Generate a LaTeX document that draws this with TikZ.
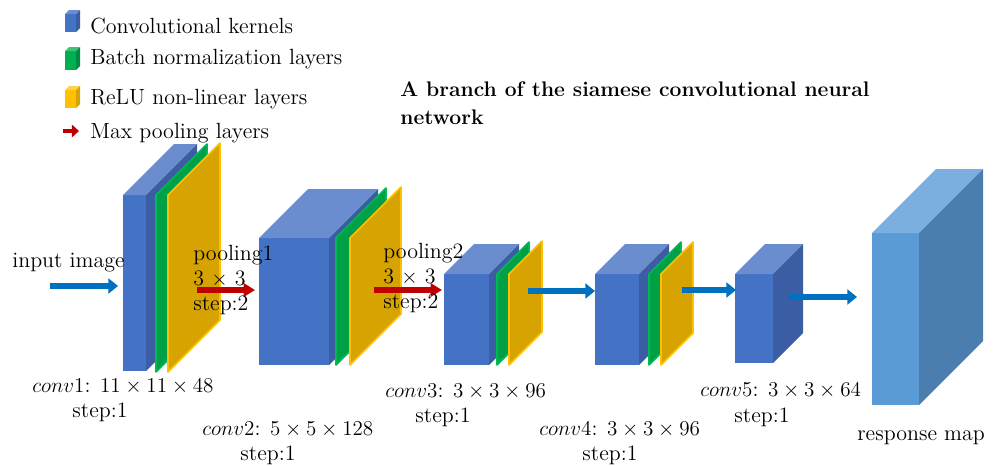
\documentclass[tikz,border=0pt]{standalone}
\usepackage{amsmath}
\usetikzlibrary{arrows.meta,positioning}

\definecolor{convfront}{HTML}{4472C4}
\definecolor{convtop}{HTML}{6A8DD0}
\definecolor{convside}{HTML}{3A5DA3}
\definecolor{bnfront}{HTML}{00B050}
\definecolor{bntop}{HTML}{3CC474}
\definecolor{bnside}{HTML}{008C40}
\definecolor{relufront}{HTML}{FFC000}
\definecolor{relutop}{HTML}{FFD24D}
\definecolor{reluside}{HTML}{D9A300}
\definecolor{bnface}{HTML}{00A046}
\definecolor{bnedge}{HTML}{00B854}
\definecolor{reluface}{HTML}{D6A300}
\definecolor{reluedge}{HTML}{FFC000}
\definecolor{resfront}{HTML}{5B9BD5}
\definecolor{restop}{HTML}{7BAFE0}
\definecolor{resside}{HTML}{4A7EAE}
\definecolor{flowblue}{HTML}{0070C0}
\definecolor{poolred}{HTML}{C00000}

% x, y of front top-left corner, width, height, depth, colour prefix
\newcommand\cuboid[6]{%
  \fill[#6front] (#1,#2) rectangle ++(#3,#4);
  \fill[#6top] (#1,#2) -- ++(#5,-#5) -- ++(#3,0) -- ++(-#5,#5) -- cycle;
  \fill[#6side] (#1+#3,#2) -- ++(#5,-#5) -- ++(0,#4) -- ++(-#5,#5) -- cycle;
}
% x, y of top-left corner, height, depth, colour prefix
\newcommand\sheet[5]{%
  \filldraw[fill=#5face, draw=#5edge, line width=0.9pt, line join=round]
    (#1,#2) -- ++(#4,-#4) -- ++(0,#3) -- ++(-#4,#4) -- cycle;
}

\begin{document}
\begin{tikzpicture}[x=0.2mm,y=-0.2mm, every node/.style={font=\fontsize{12.5}{14}\selectfont, inner sep=0pt},
  txt/.style={anchor=base west},
  flow/.style={-{Triangle[length=5.5pt,width=8.5pt]}, line width=3.8pt, flowblue},
  pool/.style={-{Triangle[length=6.5pt,width=7.5pt]}, line width=3.4pt, poolred}]
  \useasboundingbox (0,0) rectangle (1003,465);

  % legend
  \cuboid{65}{14}{11}{18}{4}{conv}
  \cuboid{65}{51}{11}{19}{4}{bn}
  \cuboid{65}{90}{11}{18}{4}{relu}
  \coordinate (lg0) at (63,131);
  \coordinate (lg1) at (79,131);
  \draw[-{Triangle[length=4pt,width=7pt]}, line width=2.8pt, poolred] (lg0) -- (lg1);
  \node[txt] (lgconv) at (90,33) {Convolutional kernels};
  \node[txt] (lgbn) at (90,64) {Batch normalization layers};
  \node[txt] (lgrelu) at (90,104) {ReLU non-linear layers};
  \node[txt] (lgpool) at (90,138) {Max pooling layers};

  \node[anchor=north west, align=left, font=\fontsize{12}{16.4}\selectfont\bfseries] (title) at (400,81)
    {A branch of the siamese convolutional neural\\network};

  % layers
  \cuboid{123}{195}{23}{176}{51}{conv}
  \sheet{156}{195}{177}{51}{bn}
  \sheet{168}{195}{177}{52}{relu}

  \cuboid{259}{238}{70}{127}{49}{conv}
  \sheet{336}{238}{127}{50}{bn}
  \sheet{350}{238}{127}{51}{relu}

  \cuboid{444}{274}{45}{91}{30}{conv}
  \sheet{497}{274}{91}{32}{bn}
  \sheet{509}{274}{91}{33}{relu}

  \cuboid{595}{274}{44}{91}{30}{conv}
  \sheet{649}{274}{91}{32}{bn}
  \sheet{661}{274}{91}{32}{relu}

  \cuboid{735}{274}{38}{89}{30}{conv}

  \cuboid{872}{233}{47}{172}{64}{res}

  % connectors
  \coordinate (in0) at (50,286);   \coordinate (in1) at (118,286);
  \coordinate (p1a) at (197,290);  \coordinate (p1b) at (255,290);
  \coordinate (p2a) at (374,290);  \coordinate (p2b) at (442,290);
  \coordinate (c3a) at (528,291);  \coordinate (c3b) at (595,291);
  \coordinate (c4a) at (682,290);  \coordinate (c4b) at (736,290);
  \coordinate (c5a) at (789,297);  \coordinate (c5b) at (857,297);
  \draw[flow] (in0) -- (in1);
  \draw[pool] (p1a) -- (p1b);
  \draw[pool] (p2a) -- (p2b);
  \draw[flow] (c3a) -- (c3b);
  \draw[flow] (c4a) -- (c4b);
  \draw[flow] (c5a) -- (c5b);

  % labels
  \node[txt] (input) at (12,267) {input image};
  \node[anchor=north west, align=left, font=\fontsize{12.5}{14.2}\selectfont] (pool1) at (193,245) {pooling1\\3 $\times$ 3\\step:2};
  \node[anchor=north west, align=left, font=\fontsize{12.5}{14.2}\selectfont] (pool2) at (383,243) {pooling2\\3 $\times$ 3\\step:2};

  \node[txt] (conv1) at (32,392) {$conv1$: $11\times 11\times 48$};
  \node[anchor=base] (step1) at (100,417) {step:1};
  \node[txt] (conv2) at (202,435) {$conv2$: $5\times 5\times 128$};
  \node[anchor=base] (step2) at (268,460) {step:1};
  \node[txt] (conv3) at (385,397) {$conv3$: $3\times 3\times 96$};
  \node[anchor=base] (step3) at (443,422) {step:1};
  \node[txt] (conv4) at (539,435) {$conv4$: $3\times 3\times 96$};
  \node[anchor=base] (step4) at (610,460) {step:1};
  \node[txt] (conv5) at (700,396) {$conv5$: $3\times 3\times 64$};
  \node[anchor=base] (step5) at (762,422) {step:1};
  \node[txt] (resmap) at (857,440) {response map};
\end{tikzpicture}
\end{document}
